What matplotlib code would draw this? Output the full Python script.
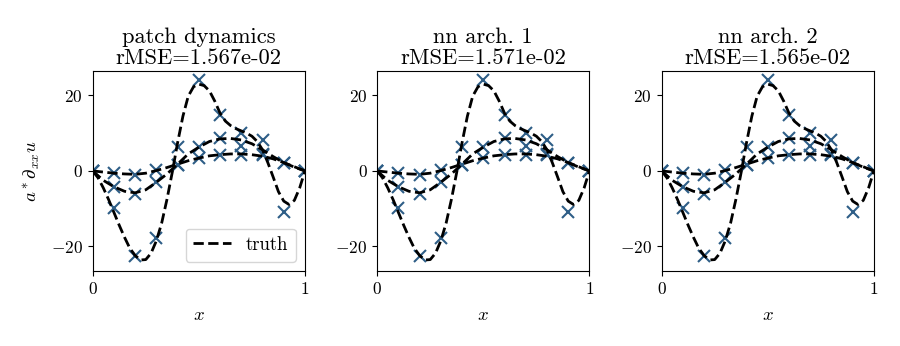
import matplotlib
matplotlib.use("Agg")
import matplotlib.pyplot as plt
import numpy as np

plt.rcParams['font.family'] = 'serif'
plt.rcParams['font.serif'] = ['cmr10']
plt.rcParams['mathtext.fontset'] = 'cm'
plt.rcParams['axes.formatter.use_mathtext'] = True
plt.rcParams['font.size'] = 13.5
plt.rcParams['xtick.labelsize'] = 12.5
plt.rcParams['ytick.labelsize'] = 12.5

# panel titles
names = ['patch dynamics', 'nn arch. 1', 'nn arch. 2']
rmse = ['1.567e-02', '1.571e-02', '1.565e-02']

# coarse grid predictions (same for all three models, visually)
x_pred = [0.0, 0.1, 0.2, 0.3, 0.4, 0.5, 0.6, 0.7, 0.8, 0.9, 1.0]
pred_a = [0.0, -9.8, -22.5, -17.9, 6.3, 24.2, 14.9, 10.1, 8.3, -10.8, 0.0]
pred_b = [0.0, -4.2, -6.0, -3.0, 1.7, 6.3, 8.6, 6.6, 4.6, 2.0, 0.0]
pred_c = [0.0, -0.6, -1.0, 0.2, 1.5, 3.5, 4.3, 4.3, 4.2, 2.0, 0.0]

# truth curves
x_fine = [0.0, 0.025, 0.05, 0.075, 0.1, 0.125, 0.15, 0.175, 0.2, 0.225,
          0.25, 0.275, 0.3, 0.325, 0.35, 0.375, 0.4, 0.425, 0.45, 0.475,
          0.5, 0.525, 0.55, 0.575, 0.6, 0.625, 0.65, 0.675, 0.7, 0.725,
          0.75, 0.775, 0.8, 0.825, 0.85, 0.875, 0.9, 0.925, 0.95, 0.975, 1.0]
truth_a = [0.0, -1.8, -4.5, -7.6, -11.0, -14.4, -17.6, -20.5, -22.4, -23.6,
           -23.5, -21.8, -18.5, -13.8, -7.5, -0.3, 7.5, 14.5, 19.8, 22.3,
           23.0, 22.6, 21.2, 18.5, 15.3, 13.2, 12.0, 11.2, 10.6, 10.0,
           9.2, 7.8, 5.6, 2.2, -1.6, -5.5, -8.0, -8.9, -7.8, -4.5, 0.0]

x_mid = [0.0, 0.05, 0.1, 0.15, 0.2, 0.25, 0.3, 0.35, 0.4, 0.45, 0.5,
         0.55, 0.6, 0.65, 0.7, 0.75, 0.8, 0.85, 0.9, 0.95, 1.0]
truth_b = [0.0, -2.5, -4.2, -5.4, -5.8, -5.0, -3.0, -0.8, 1.8, 4.5, 6.3,
           7.8, 8.5, 8.6, 8.2, 7.2, 5.6, 3.8, 2.2, 1.0, 0.0]
truth_c = [0.0, -0.3, -0.6, -0.8, -0.9, -0.6, 0.1, 0.9, 1.8, 2.7, 3.4,
           4.0, 4.3, 4.5, 4.5, 4.3, 3.9, 3.2, 2.2, 1.1, 0.0]

fig, axes = plt.subplots(1, 3, figsize=(9, 3.46), dpi=100)
fig.subplots_adjust(left=0.103, right=0.971, bottom=0.217, top=0.795, wspace=0.34)

mcol = '#2e5e87'
for ax, name, err in zip(axes, names, rmse):
    for p in [pred_a, pred_b, pred_c]:
        ax.plot(x_pred, p, 'x', color=mcol, markersize=9, markeredgewidth=1.5)
    ax.plot(x_fine, truth_a, 'k--', lw=2, label='truth')
    ax.plot(x_mid, truth_b, 'k--', lw=2)
    ax.plot(x_mid, truth_c, 'k--', lw=2)
    ax.set_xlim(0, 1)
    ax.set_ylim(-26.5, 26.5)
    ax.set_xticks([0, 1])
    ax.set_yticks([-20, 0, 20])
    ax.set_xlabel('$x$', labelpad=7)
    ax.set_title(name + '\nrMSE=' + err, linespacing=1.1, pad=5)

axes[0].set_ylabel(r'$a^*\partial_{xx}u$', labelpad=6)
axes[0].legend(loc='lower right')

fig.savefig('out.png', dpi=100)
